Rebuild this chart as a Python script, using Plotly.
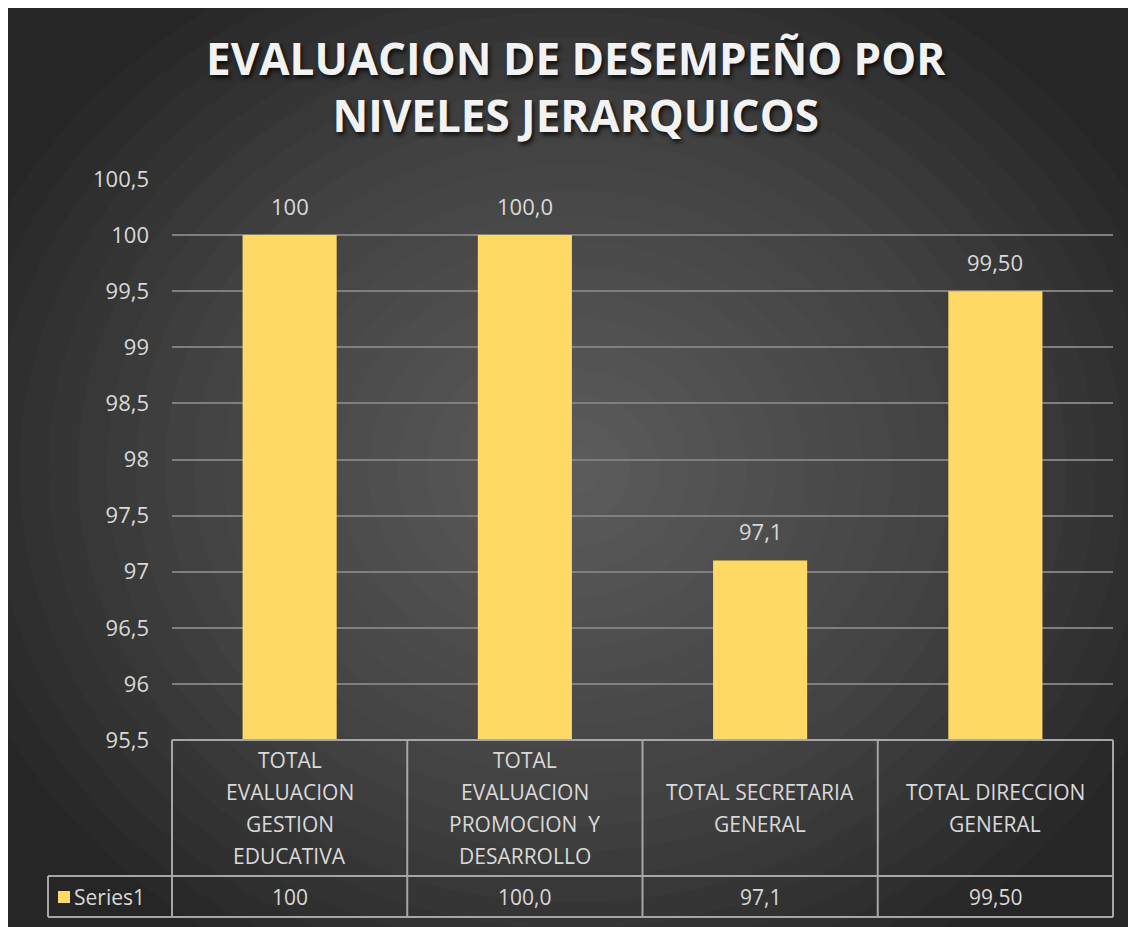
import plotly.graph_objects as go

# ---------------- data ----------------
categories = [
    "TOTAL<br>EVALUACION<br>GESTION<br>EDUCATIVA",
    "TOTAL<br>EVALUACION<br>PROMOCION  Y<br>DESARROLLO",
    "TOTAL SECRETARIA<br>GENERAL",
    "TOTAL DIRECCION<br>GENERAL",
]
values = [100, 100.0, 97.1, 99.5]
value_labels = ["100", "100,0", "97,1", "99,50"]
series_name = "Series1"
y_tickvals = [95.5, 96, 96.5, 97, 97.5, 98, 98.5, 99, 99.5, 100, 100.5]
y_ticktext = ["95,5", "96", "96,5", "97", "97,5", "98", "98,5", "99", "99,5", "100", "100,5"]
title_text = "EVALUACION DE DESEMPEÑO POR<br>NIVELES JERARQUICOS"

# ---------------- layout geometry (pixels, in figure coords; page adds 8px body margin) ----------------
OFF = 8
W_PX, H_PX = 1128, 920
L, R, T, B = 172 - OFF, 1113 - OFF, 179 - OFF, 740 - OFF
PW, PH = R - L, B - T


def px_x(px):
    return (px - OFF - L) / PW


def px_y(py):
    return (B - (py - OFF)) / PH


BAR_COLOR = "#FFD966"
TEXT_COLOR = "#D9D9D9"
LINE_COLOR = "#A6A6A6"
FONT = "Open Sans"

fig = go.Figure()
fig.add_trace(go.Bar(
    x=categories, y=values, name=series_name,
    marker=dict(color=BAR_COLOR, line=dict(width=0)),
    hoverinfo="skip", showlegend=False,
))

shapes = []
# radial gradient made of stacked translucent ellipses
cx, cy = 572, 470
n_layers = 22
for k in range(n_layers):
    f = 1 - k / n_layers
    rx, ry = 640 * f, 560 * f
    shapes.append(dict(type="circle", xref="paper", yref="paper",
                       x0=px_x(cx - rx), x1=px_x(cx + rx),
                       y0=px_y(cy + ry), y1=px_y(cy - ry),
                       fillcolor="rgba(255,255,255,0.016)", line=dict(width=0),
                       layer="below"))

# data table lines
line = dict(color=LINE_COLOR, width=2)
row1_bottom = 876
row2_bottom = 917
legend_left = 48
shapes.append(dict(type="line", xref="paper", yref="paper", x0=0, x1=1, y0=0, y1=0, line=line))
shapes.append(dict(type="line", xref="paper", yref="paper", x0=px_x(legend_left), x1=1,
                   y0=px_y(row1_bottom), y1=px_y(row1_bottom), line=line))
shapes.append(dict(type="line", xref="paper", yref="paper", x0=px_x(legend_left), x1=1,
                   y0=px_y(row2_bottom), y1=px_y(row2_bottom), line=line))
n = len(categories)
for i in range(n + 1):
    shapes.append(dict(type="line", xref="paper", yref="paper", x0=i / n, x1=i / n,
                       y0=0, y1=px_y(row2_bottom), line=line))
shapes.append(dict(type="line", xref="paper", yref="paper", x0=px_x(legend_left), x1=px_x(legend_left),
                   y0=px_y(row1_bottom), y1=px_y(row2_bottom), line=line))
# legend swatch
shapes.append(dict(type="rect", xref="paper", yref="paper",
                   x0=px_x(58), x1=px_x(70), y0=px_y(903), y1=px_y(891),
                   fillcolor=BAR_COLOR, line=dict(width=0)))

annotations = []
# title
annotations.append(dict(
    text=title_text, xref="paper", yref="paper", x=px_x(576), y=px_y(86),
    xanchor="center", yanchor="middle", showarrow=False,
    font=dict(family=FONT, size=44, color="#F2F2F2", weight="bold",
              shadow="2px 3px 4px rgba(0,0,0,0.75)"),
))
# data labels above bars
for c, v, lab in zip(categories, values, value_labels):
    annotations.append(dict(text=lab, x=c, y=v, xref="x", yref="y", yshift=29,
                            xanchor="center", yanchor="middle", showarrow=False,
                            font=dict(family=FONT, size=22, color=TEXT_COLOR)))
# table: category names (each line placed separately for Excel-like line spacing)
cat_center = (740 + row1_bottom) / 2
for c in categories:
    lines = c.split("<br>")
    for j, ln in enumerate(lines):
        off = (j - (len(lines) - 1) / 2) * 32
        annotations.append(dict(text=ln, x=c, y=px_y(cat_center), xref="x", yref="paper",
                                yshift=-off, xanchor="center", yanchor="middle", showarrow=False,
                                font=dict(family=FONT, size=21, color=TEXT_COLOR)))
# table: values row
val_center = (row1_bottom + row2_bottom) / 2
for c, lab in zip(categories, value_labels):
    annotations.append(dict(text=lab, x=c, y=px_y(val_center), xref="x", yref="paper",
                            xanchor="center", yanchor="middle", showarrow=False,
                            font=dict(family=FONT, size=21, color=TEXT_COLOR)))
# legend text
annotations.append(dict(text=series_name, x=px_x(72), y=px_y(val_center), xref="paper", yref="paper",
                        xanchor="left", yanchor="middle", showarrow=False,
                        font=dict(family=FONT, size=21, color=TEXT_COLOR)))

fig.update_layout(
    width=W_PX, height=H_PX,
    margin=dict(l=L, r=W_PX - R, t=T, b=H_PX - B, pad=0),
    paper_bgcolor="#262626", plot_bgcolor="rgba(0,0,0,0)",
    bargap=0.6,
    shapes=shapes, annotations=annotations,
    showlegend=False,
    xaxis=dict(showticklabels=False, showgrid=False, zeroline=False, showline=False,
               ticks="", range=[-0.5, n - 0.5], fixedrange=True),
    yaxis=dict(range=[95.5, 100.5], tickvals=y_tickvals, ticktext=y_ticktext,
               showgrid=True, gridcolor="#7F7F7F", gridwidth=2, zeroline=False,
               showline=False, ticks="", ticklabelstandoff=22,
               tickfont=dict(family=FONT, size=22, color=TEXT_COLOR), fixedrange=True),
)

fig.write_html("out.html")
